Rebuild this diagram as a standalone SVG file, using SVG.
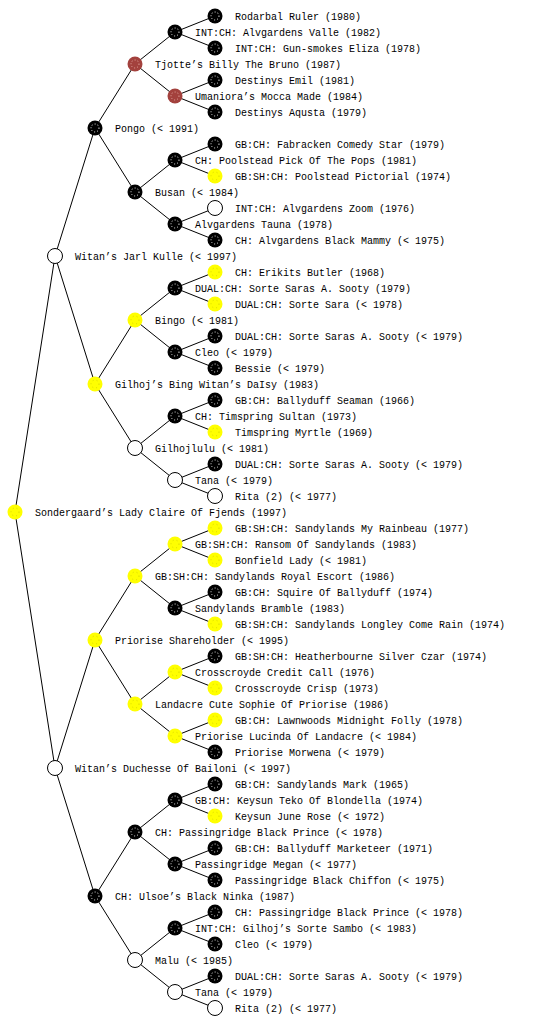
<svg xmlns="http://www.w3.org/2000/svg" xmlns:xlink="http://www.w3.org/1999/xlink" width="560" height="1024" viewBox="0 0 560 1024">
<style>
text{font-family:"Liberation Mono","DejaVu Sans Mono",monospace;font-size:10px;fill:#000}
.c line{stroke:#000;stroke-width:1}
</style>
<defs>
<g id="nb"><circle r="7.5" fill="#000"/><circle r="4" fill="none" stroke="#fff" stroke-width="1" stroke-dasharray="1 2"/></g>
<g id="nr"><circle r="7.5" fill="#a3413d"/><circle r="4" fill="none" stroke="#e8b0a8" stroke-width="1" stroke-dasharray="1 2"/></g>
<g id="ny"><circle r="7.5" fill="#ffff00"/><circle r="4" fill="none" stroke="#d8d800" stroke-width="1" stroke-dasharray="1 3"/></g>
<g id="nw"><circle r="7.5" fill="#fff" stroke="#000" stroke-width="1"/></g>
</defs>
<rect width="560" height="1024" fill="#fff"/>
<g class="c" id="connectors">
<line x1="15" y1="512" x2="55" y2="256"/><line x1="15" y1="512" x2="55" y2="768"/>
<line x1="55" y1="256" x2="95" y2="128"/><line x1="55" y1="256" x2="95" y2="384"/>
<line x1="55" y1="768" x2="95" y2="640"/><line x1="55" y1="768" x2="95" y2="896"/>
<line x1="95" y1="128" x2="135" y2="64"/><line x1="95" y1="128" x2="135" y2="192"/>
<line x1="95" y1="384" x2="135" y2="320"/><line x1="95" y1="384" x2="135" y2="448"/>
<line x1="95" y1="640" x2="135" y2="576"/><line x1="95" y1="640" x2="135" y2="704"/>
<line x1="95" y1="896" x2="135" y2="832"/><line x1="95" y1="896" x2="135" y2="960"/>
<line x1="135" y1="64" x2="175" y2="32"/><line x1="135" y1="64" x2="175" y2="96"/>
<line x1="135" y1="192" x2="175" y2="160"/><line x1="135" y1="192" x2="175" y2="224"/>
<line x1="135" y1="320" x2="175" y2="288"/><line x1="135" y1="320" x2="175" y2="352"/>
<line x1="135" y1="448" x2="175" y2="416"/><line x1="135" y1="448" x2="175" y2="480"/>
<line x1="135" y1="576" x2="175" y2="544"/><line x1="135" y1="576" x2="175" y2="608"/>
<line x1="135" y1="704" x2="175" y2="672"/><line x1="135" y1="704" x2="175" y2="736"/>
<line x1="135" y1="832" x2="175" y2="800"/><line x1="135" y1="832" x2="175" y2="864"/>
<line x1="135" y1="960" x2="175" y2="928"/><line x1="135" y1="960" x2="175" y2="992"/>
<line x1="175" y1="32" x2="215" y2="16"/><line x1="175" y1="32" x2="215" y2="48"/>
<line x1="175" y1="96" x2="215" y2="80"/><line x1="175" y1="96" x2="215" y2="112"/>
<line x1="175" y1="160" x2="215" y2="144"/><line x1="175" y1="160" x2="215" y2="176"/>
<line x1="175" y1="224" x2="215" y2="208"/><line x1="175" y1="224" x2="215" y2="240"/>
<line x1="175" y1="288" x2="215" y2="272"/><line x1="175" y1="288" x2="215" y2="304"/>
<line x1="175" y1="352" x2="215" y2="336"/><line x1="175" y1="352" x2="215" y2="368"/>
<line x1="175" y1="416" x2="215" y2="400"/><line x1="175" y1="416" x2="215" y2="432"/>
<line x1="175" y1="480" x2="215" y2="464"/><line x1="175" y1="480" x2="215" y2="496"/>
<line x1="175" y1="544" x2="215" y2="528"/><line x1="175" y1="544" x2="215" y2="560"/>
<line x1="175" y1="608" x2="215" y2="592"/><line x1="175" y1="608" x2="215" y2="624"/>
<line x1="175" y1="672" x2="215" y2="656"/><line x1="175" y1="672" x2="215" y2="688"/>
<line x1="175" y1="736" x2="215" y2="720"/><line x1="175" y1="736" x2="215" y2="752"/>
<line x1="175" y1="800" x2="215" y2="784"/><line x1="175" y1="800" x2="215" y2="816"/>
<line x1="175" y1="864" x2="215" y2="848"/><line x1="175" y1="864" x2="215" y2="880"/>
<line x1="175" y1="928" x2="215" y2="912"/><line x1="175" y1="928" x2="215" y2="944"/>
<line x1="175" y1="992" x2="215" y2="976"/><line x1="175" y1="992" x2="215" y2="1008"/>
</g>
<g id="n-root"><use href="#ny" x="15" y="512"/><text x="35" y="516">Sondergaard’s Lady Claire Of Fjends (1997)</text></g>
<g id="n-s"><use href="#nw" x="55" y="256"/><text x="75" y="260">Witan’s Jarl Kulle (&lt; 1997)</text></g>
<g id="n-d"><use href="#nw" x="55" y="768"/><text x="75" y="772">Witan’s Duchesse Of Bailoni (&lt; 1997)</text></g>
<g id="n-ss"><use href="#nb" x="95" y="128"/><text x="115" y="132">Pongo (&lt; 1991)</text></g>
<g id="n-sd"><use href="#ny" x="95" y="384"/><text x="115" y="388">Gilhoj’s Bing Witan’s DaIsy (1983)</text></g>
<g id="n-ds"><use href="#ny" x="95" y="640"/><text x="115" y="644">Priorise Shareholder (&lt; 1995)</text></g>
<g id="n-dd"><use href="#nb" x="95" y="896"/><text x="115" y="900">CH: Ulsoe’s Black Ninka (1987)</text></g>
<g id="n-sss"><use href="#nr" x="135" y="64"/><text x="155" y="68">Tjotte’s Billy The Bruno (1987)</text></g>
<g id="n-ssd"><use href="#nb" x="135" y="192"/><text x="155" y="196">Busan (&lt; 1984)</text></g>
<g id="n-sds"><use href="#ny" x="135" y="320"/><text x="155" y="324">Bingo (&lt; 1981)</text></g>
<g id="n-sdd"><use href="#nw" x="135" y="448"/><text x="155" y="452">Gilhojlulu (&lt; 1981)</text></g>
<g id="n-dss"><use href="#ny" x="135" y="576"/><text x="155" y="580">GB:SH:CH: Sandylands Royal Escort (1986)</text></g>
<g id="n-dsd"><use href="#ny" x="135" y="704"/><text x="155" y="708">Landacre Cute Sophie Of Priorise (1986)</text></g>
<g id="n-dds"><use href="#nb" x="135" y="832"/><text x="155" y="836">CH: Passingridge Black Prince (&lt; 1978)</text></g>
<g id="n-ddd"><use href="#nw" x="135" y="960"/><text x="155" y="964">Malu (&lt; 1985)</text></g>
<g id="g4-1"><use href="#nb" x="175" y="32"/><text x="195" y="36">INT:CH: Alvgardens Valle (1982)</text></g>
<g id="g4-2"><use href="#nr" x="175" y="96"/><text x="195" y="100">Umaniora’s Mocca Made (1984)</text></g>
<g id="g4-3"><use href="#nb" x="175" y="160"/><text x="195" y="164">CH: Poolstead Pick Of The Pops (1981)</text></g>
<g id="g4-4"><use href="#nb" x="175" y="224"/><text x="195" y="228">Alvgardens Tauna (1978)</text></g>
<g id="g4-5"><use href="#nb" x="175" y="288"/><text x="195" y="292">DUAL:CH: Sorte Saras A. Sooty (1979)</text></g>
<g id="g4-6"><use href="#nb" x="175" y="352"/><text x="195" y="356">Cleo (&lt; 1979)</text></g>
<g id="g4-7"><use href="#nb" x="175" y="416"/><text x="195" y="420">CH: Timspring Sultan (1973)</text></g>
<g id="g4-8"><use href="#nw" x="175" y="480"/><text x="195" y="484">Tana (&lt; 1979)</text></g>
<g id="g4-9"><use href="#ny" x="175" y="544"/><text x="195" y="548">GB:SH:CH: Ransom Of Sandylands (1983)</text></g>
<g id="g4-10"><use href="#nb" x="175" y="608"/><text x="195" y="612">Sandylands Bramble (1983)</text></g>
<g id="g4-11"><use href="#ny" x="175" y="672"/><text x="195" y="676">Crosscroyde Credit Call (1976)</text></g>
<g id="g4-12"><use href="#ny" x="175" y="736"/><text x="195" y="740">Priorise Lucinda Of Landacre (&lt; 1984)</text></g>
<g id="g4-13"><use href="#nb" x="175" y="800"/><text x="195" y="804">GB:CH: Keysun Teko Of Blondella (1974)</text></g>
<g id="g4-14"><use href="#nb" x="175" y="864"/><text x="195" y="868">Passingridge Megan (&lt; 1977)</text></g>
<g id="g4-15"><use href="#nb" x="175" y="928"/><text x="195" y="932">INT:CH: Gilhoj’s Sorte Sambo (&lt; 1983)</text></g>
<g id="g4-16"><use href="#nw" x="175" y="992"/><text x="195" y="996">Tana (&lt; 1979)</text></g>
<g id="l1"><use href="#nb" x="215" y="16"/><text x="235" y="20">Rodarbal Ruler (1980)</text></g>
<g id="l2"><use href="#nb" x="215" y="48"/><text x="235" y="52">INT:CH: Gun-smokes Eliza (1978)</text></g>
<g id="l3"><use href="#nb" x="215" y="80"/><text x="235" y="84">Destinys Emil (1981)</text></g>
<g id="l4"><use href="#nb" x="215" y="112"/><text x="235" y="116">Destinys Aqusta (1979)</text></g>
<g id="l5"><use href="#nb" x="215" y="144"/><text x="235" y="148">GB:CH: Fabracken Comedy Star (1979)</text></g>
<g id="l6"><use href="#ny" x="215" y="176"/><text x="235" y="180">GB:SH:CH: Poolstead Pictorial (1974)</text></g>
<g id="l7"><use href="#nw" x="215" y="208"/><text x="235" y="212">INT:CH: Alvgardens Zoom (1976)</text></g>
<g id="l8"><use href="#nb" x="215" y="240"/><text x="235" y="244">CH: Alvgardens Black Mammy (&lt; 1975)</text></g>
<g id="l9"><use href="#ny" x="215" y="272"/><text x="235" y="276">CH: Erikits Butler (1968)</text></g>
<g id="l10"><use href="#ny" x="215" y="304"/><text x="235" y="308">DUAL:CH: Sorte Sara (&lt; 1978)</text></g>
<g id="l11"><use href="#nb" x="215" y="336"/><text x="235" y="340">DUAL:CH: Sorte Saras A. Sooty (&lt; 1979)</text></g>
<g id="l12"><use href="#nb" x="215" y="368"/><text x="235" y="372">Bessie (&lt; 1979)</text></g>
<g id="l13"><use href="#nb" x="215" y="400"/><text x="235" y="404">GB:CH: Ballyduff Seaman (1966)</text></g>
<g id="l14"><use href="#ny" x="215" y="432"/><text x="235" y="436">Timspring Myrtle (1969)</text></g>
<g id="l15"><use href="#nb" x="215" y="464"/><text x="235" y="468">DUAL:CH: Sorte Saras A. Sooty (&lt; 1979)</text></g>
<g id="l16"><use href="#nw" x="215" y="496"/><text x="235" y="500">Rita (2) (&lt; 1977)</text></g>
<g id="l17"><use href="#ny" x="215" y="528"/><text x="235" y="532">GB:SH:CH: Sandylands My Rainbeau (1977)</text></g>
<g id="l18"><use href="#ny" x="215" y="560"/><text x="235" y="564">Bonfield Lady (&lt; 1981)</text></g>
<g id="l19"><use href="#nb" x="215" y="592"/><text x="235" y="596">GB:CH: Squire Of Ballyduff (1974)</text></g>
<g id="l20"><use href="#ny" x="215" y="624"/><text x="235" y="628">GB:SH:CH: Sandylands Longley Come Rain (1974)</text></g>
<g id="l21"><use href="#nb" x="215" y="656"/><text x="235" y="660">GB:SH:CH: Heatherbourne Silver Czar (1974)</text></g>
<g id="l22"><use href="#ny" x="215" y="688"/><text x="235" y="692">Crosscroyde Crisp (1973)</text></g>
<g id="l23"><use href="#ny" x="215" y="720"/><text x="235" y="724">GB:CH: Lawnwoods Midnight Folly (1978)</text></g>
<g id="l24"><use href="#nb" x="215" y="752"/><text x="235" y="756">Priorise Morwena (&lt; 1979)</text></g>
<g id="l25"><use href="#nb" x="215" y="784"/><text x="235" y="788">GB:CH: Sandylands Mark (1965)</text></g>
<g id="l26"><use href="#ny" x="215" y="816"/><text x="235" y="820">Keysun June Rose (&lt; 1972)</text></g>
<g id="l27"><use href="#nb" x="215" y="848"/><text x="235" y="852">GB:CH: Ballyduff Marketeer (1971)</text></g>
<g id="l28"><use href="#nb" x="215" y="880"/><text x="235" y="884">Passingridge Black Chiffon (&lt; 1975)</text></g>
<g id="l29"><use href="#nb" x="215" y="912"/><text x="235" y="916">CH: Passingridge Black Prince (&lt; 1978)</text></g>
<g id="l30"><use href="#nb" x="215" y="944"/><text x="235" y="948">Cleo (&lt; 1979)</text></g>
<g id="l31"><use href="#nb" x="215" y="976"/><text x="235" y="980">DUAL:CH: Sorte Saras A. Sooty (&lt; 1979)</text></g>
<g id="l32"><use href="#nw" x="215" y="1008"/><text x="235" y="1012">Rita (2) (&lt; 1977)</text></g>
</svg>
